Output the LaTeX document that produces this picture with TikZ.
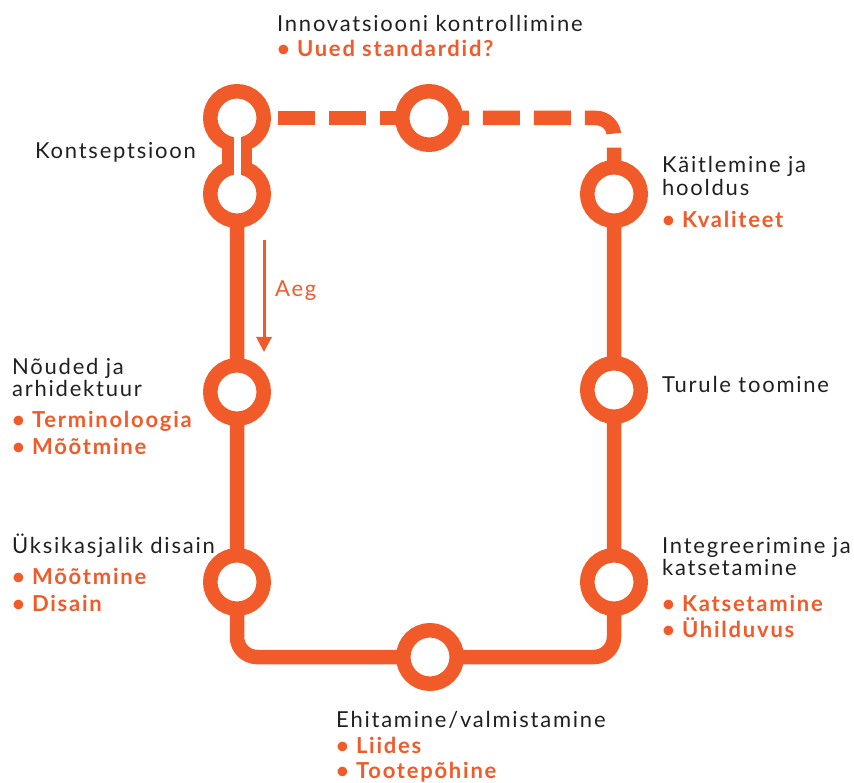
\documentclass[tikz,border=0pt]{standalone}
\usepackage{fontspec}
\setmainfont{Lato}[LetterSpace=8]
\usetikzlibrary{arrows.meta}
\definecolor{orng}{RGB}{241,90,41}
\definecolor{ink}{RGB}{35,31,32}

\begin{document}
\begin{tikzpicture}[x=1pt,y=-1pt]
\useasboundingbox (0,0) rectangle (854,783);
\tikzstyle{stn}=[circle, draw=orng, fill=white, line width=14.5pt,
                 minimum size=53.5pt, inner sep=0pt, outer sep=0pt]
\tikzstyle{trk}=[draw=orng, line width=14.5pt]
\tikzstyle{txt}=[anchor=base west, inner sep=0pt, text=ink, font=\fontsize{22}{26}\selectfont]
\tikzstyle{itm}=[txt, text=orng, font=\fontsize{22}{26}\selectfont\bfseries]
% stations
\node[stn](k1) at (237,118){};
\node[stn](k2) at (237,194){};
\node[stn](innov) at (429,118){};
\node[stn](noud) at (237,392){};
\node[stn](yks) at (237,582){};
\node[stn](ehit) at (430,657){};
\node[stn](integ) at (614,582){};
\node[stn](turu) at (614,390){};
\node[stn](kait) at (614,194){};
\coordinate (cnr) at (614,118);
% neck between the two concept stations
\draw[orng, line width=30pt] (k1) -- (k2);
% main line
\draw[trk, rounded corners=20pt] (k2) -- (noud) -- (yks) |- (ehit) -| (integ) -- (turu) -- (kait);
% dashed return line
\draw[trk, dash pattern=on 37pt off 14pt, dash phase=37pt] (k1) -- (innov);
\draw[trk, dash pattern=on 37pt off 14pt, dash phase=24pt, rounded corners=18pt] (innov) -- (cnr) -- (kait);
\draw[white, line width=7pt] (k1.center) -- (k2.center);
% time arrow
\coordinate (a1) at (264,240);
\coordinate (a2) at (264,352);
\draw[orng, line width=3pt, -{Triangle[width=15pt,length=15pt]}] (a1) -- (a2);
\node[txt, text=orng](aeg) at (275,297){Aeg};
% labels
\foreach \n/\x/\y/\t in {inno/277/32/Innovatsiooni kontrollimine, kont/35/159/Kontseptsioon,
  kai1/662/173/Käitlemine ja, kai2/662/196/hooldus, nou1/12/375/Nõuded ja, nou2/12/397/arhidektuur,
  tur/662/393/Turule toomine, yks1/12/553/Üksikasjalik disain, int1/662/553/Integreerimine ja,
  int2/662/575/katsetamine, ehi/336/727/{Ehitamine/valmistamine}}{\node[txt](\n) at (\x,\y){\t};}
\foreach \n/\x/\y/\t in {uued/277/57/Uued standardid?, kval/662/228/Kvaliteet,
  term/12/428/Terminoloogia, moo1/12/454/Mõõtmine, moo2/12/584/Mõõtmine, dis/12/611/Disain,
  kats/662/611/Katsetamine, uhil/662/637/Ühilduvus, liid/336/753/Liides, toot/336/778/Tootepõhine}{\node[itm](\n) at (\x,\y){\textbullet\ \t};}
\end{tikzpicture}
\end{document}
